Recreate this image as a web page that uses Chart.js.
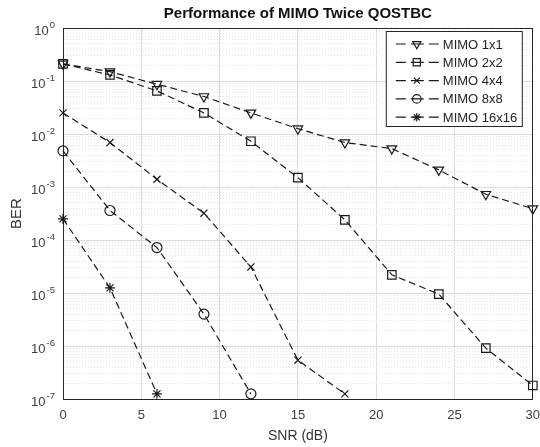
<!DOCTYPE html>
<html>
<head>
<meta charset="utf-8">
<script src="https://cdn.jsdelivr.net/npm/chart.js@4.4.0/dist/chart.umd.min.js"></script>
<style>body{margin:0;background:#fff}</style>
</head>
<body>
<canvas id="berChart" width="540" height="447"></canvas>
<script>
// SNR points (dB)
var snr = [0, 3, 6, 9, 12, 15, 18, 21, 24, 27, 30];

// BER
var ber1x1 = [0.21, 0.15, 0.087, 0.051, 0.025, 0.0126, 0.0069, 0.0053, 0.0021, 0.00073, 0.00039];
var ber2x2 = [0.21, 0.13, 0.065, 0.025, 0.0073, 0.0015, 0.00024, 0.000022, 0.0000095, 0.00000091, 0.00000018];
var ber4x4 = [0.025, 0.0069, 0.0014, 0.00032, 0.000031, 0.00000054, 0.000000125];
var ber8x8 = [0.0048, 0.00036, 0.000072, 0.000004, 0.000000125];
var ber16x16 = [0.00025, 0.0000125, 0.000000125];

var seriesNames = ['MIMO 1x1', 'MIMO 2x2', 'MIMO 4x4', 'MIMO 8x8', 'MIMO 16x16'];
var markers = ['triangle', 'rect', 'crossRot', 'circle', 'star'];
var markerRot = [180, 0, 0, 0, 0];
var markerSize = [5.5, 6, 5, 5, 5];

var xTicks = [0, 5, 10, 15, 20, 25, 30];
var yExponents = [0, -1, -2, -3, -4, -5, -6, -7];

var FONT = '"Liberation Sans", Arial, sans-serif';

function isDecade(v) {
  var l = Math.log10(v);
  return Math.abs(l - Math.round(l)) < 1e-6;
}
function toPoints(ys) {
  return ys.map(function (y, i) { return { x: snr[i], y: y }; });
}

var allBer = [ber1x1, ber2x2, ber4x4, ber8x8, ber16x16];
var lineColor = '#1a1a1a';
var datasets = allBer.map(function (ys, k) {
  return {
    label: seriesNames[k],
    data: toPoints(ys),
    borderColor: lineColor,
    borderWidth: 1.2,
    borderDash: [7, 4],
    pointStyle: markers[k],
    pointRotation: markerRot[k],
    pointRadius: markerSize[k],
    pointBorderWidth: 1.2,
    pointBorderColor: lineColor,
    pointBackgroundColor: 'rgba(0,0,0,0)',
    tension: 0,
    clip: 10
  };
});

// 10^n labels with a raised exponent, placed by the y scale
var powerLabels = {
  id: 'powerLabels',
  afterDraw: function (chart) {
    var ctx = chart.ctx;
    var ys = chart.scales.y;
    var right = chart.chartArea.left - 8;
    ctx.save();
    ctx.fillStyle = '#404040';
    ctx.textBaseline = 'middle';
    ctx.textAlign = 'left';
    yExponents.forEach(function (e) {
      var py = ys.getPixelForValue(Math.pow(10, e));
      var exp = String(e);
      ctx.font = '9.5px ' + FONT;
      var ew = ctx.measureText(exp).width;
      ctx.font = '13px ' + FONT;
      var bw = ctx.measureText('10').width;
      var x0 = right - ew - bw - 1;
      ctx.fillText('10', x0, py + 3);
      ctx.font = '9.5px ' + FONT;
      ctx.fillText(exp, x0 + bw + 1, py - 3);
    });
    ctx.restore();
  }
};

// legend drawn inside the axes, like the original
var boxLegend = {
  id: 'boxLegend',
  afterDraw: function (chart) {
    var ctx = chart.ctx;
    var area = chart.chartArea;
    var w = 136, h = 95;
    var left = area.right - 11 - w, top = area.top + 3;
    ctx.save();
    ctx.fillStyle = '#fff';
    ctx.fillRect(left, top, w, h);
    ctx.strokeStyle = '#262626';
    ctx.lineWidth = 1;
    ctx.strokeRect(left + 0.5, top + 0.5, w, h);
    ctx.font = '13px ' + FONT;
    ctx.textBaseline = 'middle';
    chart.data.datasets.forEach(function (ds, k) {
      var y = top + 13 + k * 18.3;
      ctx.strokeStyle = lineColor;
      ctx.lineWidth = 1.2;
      ctx.setLineDash([10, 5, 13, 5]);
      ctx.beginPath();
      ctx.moveTo(left + 10, y);
      ctx.lineTo(left + 53, y);
      ctx.stroke();
      ctx.setLineDash([]);
      ctx.fillStyle = 'rgba(0,0,0,0)';
      Chart.helpers.drawPoint(ctx, {
        pointStyle: ds.pointStyle, rotation: ds.pointRotation,
        radius: ds.pointRadius * 0.85, borderWidth: 1.2
      }, left + 31, y);
      ctx.fillStyle = '#262626';
      ctx.fillText(ds.label, left + 57, y + 1);
    });
    ctx.restore();
  }
};

var ctx = document.getElementById('berChart').getContext('2d');
var berChart = new Chart(ctx, {
  type: 'line',
  data: { datasets: datasets },
  plugins: [powerLabels, boxLegend],
  options: {
    responsive: false,
    animation: false,
    layout: { padding: { left: 0, right: 6, top: 0, bottom: 0 } },
    plugins: {
      legend: { display: false },
      tooltip: { enabled: false },
      title: {
        display: true,
        fullSize: false,
        text: 'Performance of MIMO Twice QOSTBC',
        color: '#111',
        font: { family: FONT, size: 15, weight: 'bold' },
        padding: { top: 5, bottom: 5 }
      }
    },
    scales: {
      x: {
        type: 'linear',
        min: 0, max: 30,
        afterBuildTicks: function (scale) {
          scale.ticks = xTicks.map(function (v) { return { value: v }; });
        },
        afterFit: function (scale) {
          scale.height = 48;
          scale.paddingLeft = 0;
          scale.paddingRight = 0;
        },
        ticks: { color: '#404040', padding: 9, font: { family: FONT, size: 13 } },
        grid: { color: '#dcdcdc', drawTicks: false, lineWidth: 1 },
        border: { color: '#262626', width: 1 },
        title: {
          display: true, text: 'SNR (dB)', color: '#333',
          font: { family: FONT, size: 14 },
          padding: { top: 4, bottom: 2 }
        }
      },
      y: {
        type: 'logarithmic',
        min: 1e-7, max: 1,
        afterBuildTicks: function (scale) {
          var t = [];
          for (var e = -7; e <= 0; e++) {
            for (var m = 1; m <= 9; m++) {
              if (e === 0 && m > 1) break;
              t.push({ value: m * Math.pow(10, e) });
            }
          }
          scale.ticks = t;
        },
        afterFit: function (scale) {
          scale.width = 63;
          scale.paddingTop = 0;
          scale.paddingBottom = 0;
        },
        ticks: {
          autoSkip: false,
          color: 'rgba(0,0,0,0)',
          padding: 5,
          font: { family: FONT, size: 13 },
          callback: function () { return ' '; }
        },
        grid: {
          drawTicks: false,
          color: function (c) {
            return c.tick && isDecade(c.tick.value) ? '#dcdcdc' : '#e4e4e4';
          }
        },
        border: {
          color: '#262626', width: 1,
          dash: function (c) {
            return c.tick && !isDecade(c.tick.value) ? [1, 2] : [];
          }
        },
        title: {
          display: true, text: 'BER', color: '#333',
          font: { family: FONT, size: 15 },
          padding: { top: 8, bottom: 0 }
        }
      },
      xTop: {
        type: 'linear', position: 'top', min: 0, max: 30,
        afterFit: function (scale) { scale.height = 0; },
        ticks: { display: false },
        grid: { display: false },
        border: { color: '#262626', width: 1 }
      },
      yRight: {
        type: 'linear', position: 'right', min: 0, max: 1,
        afterFit: function (scale) { scale.width = 0; },
        ticks: { display: false },
        grid: { display: false },
        border: { color: '#262626', width: 1 }
      }
    }
  }
});
</script>
</body>
</html>
